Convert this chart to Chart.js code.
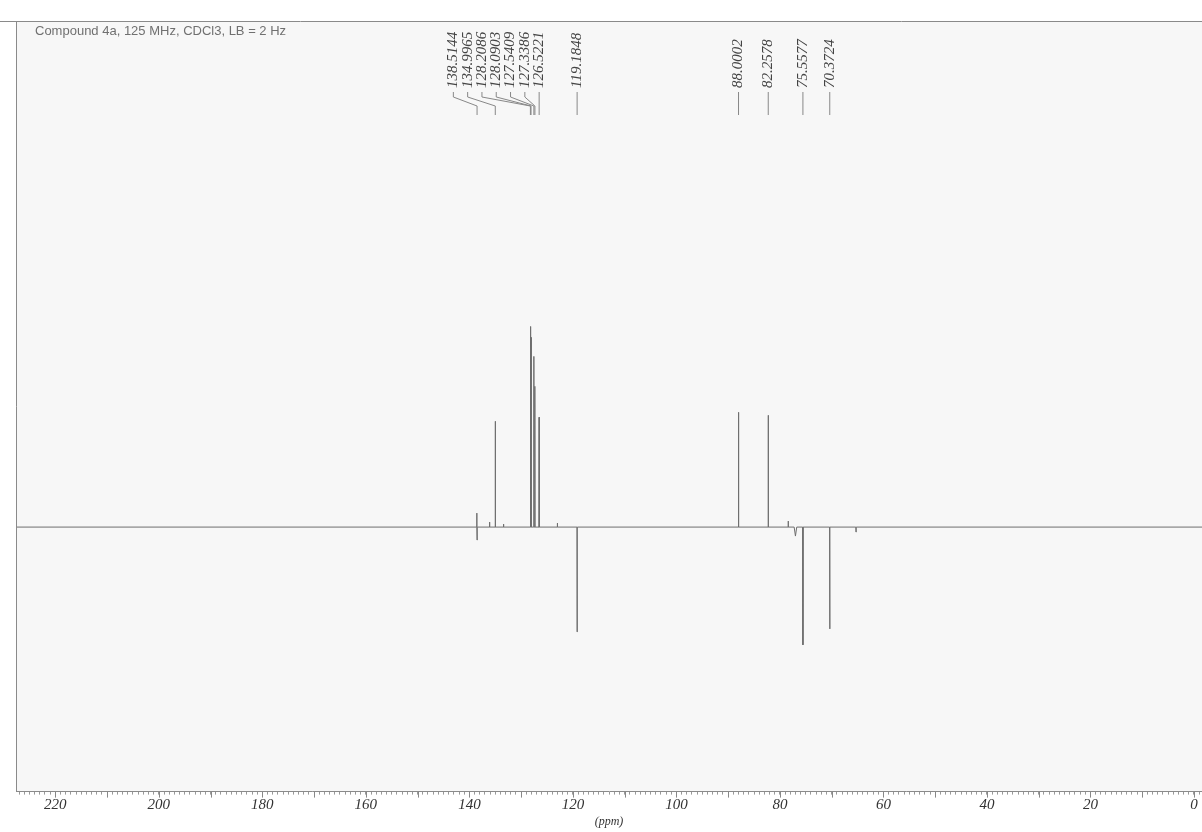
<!DOCTYPE html>
<html>
<head>
<meta charset="utf-8">
<title>Compound 4a 13C APT</title>
<script src="https://cdn.jsdelivr.net/npm/chart.js@4.4.1/dist/chart.umd.min.js"></script>
<style>
    html, body { margin: 0; padding: 0; background: #ffffff; }
    #wrap { position: relative; width: 1202px; height: 832px; }
</style>
</head>
<body>
<div id="wrap"><canvas id="spectrum" width="1202" height="832"></canvas></div>
<script>
// labelled peaks (ppm) and their heights, + up / - down (APT phase)
const peakShifts = [138.5144, 134.9965, 128.2086, 128.0903, 127.5409, 127.3386, 126.5221, 119.1848, 88.0002, 82.2578, 75.5577, 70.3724];
const peakHeights = [-13, 106, 201, 190, 171, 141, 110, -105, 115, 112, -118, -102];

// small unlabelled features seen on the baseline
const minorShifts = [138.58, 136.1, 133.4, 123.0, 78.4, 77.0, 65.3];
const minorHeights = [14, 5, 3, 4, 6, -9, -5];

// axis labels shown every 20 ppm
const tickLabels = [220, 200, 180, 160, 140, 120, 100, 80, 60, 40, 20, 0];

const titleText = 'Compound 4a, 125 MHz, CDCl3, LB = 2 Hz';
const X_MAX = 227.6;
const X_MIN = -1.55;

/**
 * build the line points from the peak lists
 */
function buildSpectrum() {
    const feats = [];
    peakShifts.forEach((s, i) => feats.push({ s, h: peakHeights[i], w: 0.03 }));
    minorShifts.forEach((s, i) => feats.push({ s, h: minorHeights[i], w: s === 77.0 ? 0.25 : 0.03 }));
    feats.sort((a, b) => b.s - a.s);

    const pts = [{ x: X_MAX, y: 0 }];
    feats.forEach(f => {
        pts.push({ x: f.s + f.w, y: 0 });
        pts.push({ x: f.s, y: f.h });
        pts.push({ x: f.s - f.w, y: 0 });
    });
    pts.push({ x: X_MIN, y: 0 });
    return pts;
}

/**
 * frame, background and title
 */
const framePlugin = {
    id: 'frame',
    beforeDraw(chart) {
        const { ctx, chartArea: a } = chart;
        ctx.save();
        ctx.fillStyle = '#f7f7f7';
        ctx.fillRect(a.left, a.top, a.right - a.left, a.bottom - a.top);
        ctx.restore();
    },
    afterDraw(chart) {
        const { ctx, chartArea: a, scales: { x } } = chart;
        ctx.save();
        ctx.strokeStyle = '#8a8a8a';
        ctx.lineWidth = 1;
        ctx.beginPath();
        ctx.moveTo(0, a.top + 0.5);
        ctx.lineTo(a.right, a.top + 0.5);
        ctx.moveTo(a.left + 0.5, a.top);
        ctx.lineTo(a.left + 0.5, a.bottom);
        ctx.stroke();

        // longer ticks at every 10 ppm
        ctx.strokeStyle = '#888';
        ctx.beginPath();
        for (let v = 0; v <= 220; v += 10) {
            const px = Math.round(x.getPixelForValue(v)) + 0.5;
            ctx.moveTo(px, a.bottom);
            ctx.lineTo(px, a.bottom + 6);
        }
        ctx.stroke();

        ctx.fillStyle = '#707070';
        ctx.font = '13px "Liberation Sans", Arial, sans-serif';
        ctx.textBaseline = 'middle';
        ctx.textAlign = 'left';
        ctx.fillText(titleText, 35, 31);
        ctx.restore();
    }
};

/**
 * peak labels at the top with connector lines
 */
const peakLabelPlugin = {
    id: 'peakLabels',
    afterDatasetsDraw(chart) {
        const { ctx, scales: { x } } = chart;
        const pitch = 14.3;
        const items = peakShifts.map(s => ({ text: s.toFixed(4), px: x.getPixelForValue(s) }));
        items.sort((a, b) => b.px - a.px);

        let prev = Infinity;
        items.forEach(it => {
            it.lx = Math.min(it.px, prev - pitch);
            prev = it.lx;
        });

        ctx.save();
        ctx.strokeStyle = '#888';
        ctx.lineWidth = 1;
        ctx.fillStyle = '#444';
        ctx.font = 'italic 15px "Liberation Serif", "Times New Roman", serif';
        items.forEach(it => {
            ctx.beginPath();
            ctx.moveTo(it.lx, 92);
            ctx.lineTo(it.lx, 97);
            ctx.lineTo(it.px, 106);
            ctx.lineTo(it.px, 115);
            ctx.stroke();

            ctx.save();
            ctx.translate(it.lx, 88);
            ctx.rotate(-Math.PI / 2);
            ctx.textAlign = 'left';
            ctx.textBaseline = 'middle';
            ctx.fillText(it.text, 0, 0);
            ctx.restore();
        });
        ctx.restore();
    }
};

const chart = new Chart(document.getElementById('spectrum').getContext('2d'), {
    type: 'line',
    data: {
        datasets: [{
            data: buildSpectrum(),
            borderColor: '#6e6e6e',
            borderWidth: 1,
            pointRadius: 0,
            tension: 0,
            fill: false,
        }],
    },
    options: {
        responsive: false,
        animation: false,
        layout: { padding: { left: 16, top: 21, right: 0, bottom: 3 } },
        plugins: {
            legend: { display: false },
            tooltip: { enabled: false },
        },
        scales: {
            x: {
                type: 'linear',
                reverse: true,
                min: X_MIN,
                max: X_MAX,
                border: { display: true, color: '#8a8a8a' },
                grid: { drawOnChartArea: false, tickLength: 3, tickColor: '#999' },
                ticks: {
                    stepSize: 1,
                    autoSkip: false,
                    includeBounds: false,
                    maxRotation: 0,
                    minRotation: 0,
                    padding: 1,
                    color: '#333',
                    font: { family: '"Liberation Serif", "Times New Roman", serif', size: 15, style: 'italic' },
                    callback: v => (tickLabels.includes(v) ? String(v) : ''),
                },
                title: {
                    display: true,
                    text: '(ppm)',
                    color: '#333',
                    padding: { top: 0, bottom: 0 },
                    font: { family: '"Liberation Serif", "Times New Roman", serif', size: 12, style: 'italic' },
                },
            },
            y: {
                display: false,
                min: -265,
                max: 507,
            },
        },
    },
    plugins: [framePlugin, peakLabelPlugin],
});
</script>
</body>
</html>
